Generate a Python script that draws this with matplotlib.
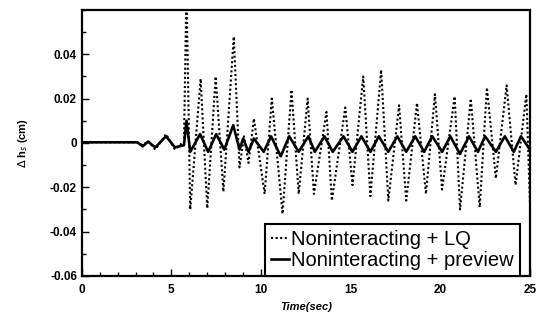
import matplotlib
matplotlib.use("Agg")
import matplotlib.pyplot as plt
from matplotlib.ticker import MultipleLocator

# ---- data ----
lq_t = [0, 3.1, 3.4, 3.7, 4.1, 4.7, 5.2, 5.6, 5.70, 5.84, 6.05, 6.63, 7.0, 7.47, 7.9,
        8.48, 8.8, 9.05, 9.3, 9.6, 10.2, 10.6, 11.2, 11.7, 12.1, 12.6, 12.95,
        13.65, 13.95, 14.7, 15.1, 15.7, 16.1, 16.7, 17.1, 17.7, 18.1, 18.7,
        19.2, 19.7, 20.1, 20.8, 21.1, 21.7, 22.2, 22.6, 23.1, 23.7, 24.2,
        24.8, 25.0]
lq_v = [0.0003, 0.0003, -0.001, 0.001, -0.003, 0.004, -0.003, 0.0, 0.0, 0.07, -0.030,
        0.029, -0.0295, 0.030, -0.022, 0.048, -0.011, 0.003, -0.009, 0.011,
        -0.023, 0.020, -0.032, 0.024, -0.023, 0.020, -0.023, 0.014, -0.026,
        0.016, -0.019, 0.030, -0.024, 0.033, -0.026, 0.017, -0.026, 0.018,
        -0.023, 0.022, -0.021, 0.021, -0.030, 0.020, -0.029, 0.025, -0.016,
        0.026, -0.019, 0.022, -0.027]

pv_t = [0, 3.1, 3.4, 3.7, 4.1, 4.7, 5.2, 5.7, 5.84, 6.05, 6.6, 7.05, 7.5, 7.95,
        8.45, 8.8, 9.0, 9.3, 9.6, 10.15, 10.56, 11.1, 11.57, 12.1, 12.64, 13.0,
        13.54, 14.0, 14.6, 15.1, 15.6, 16.1, 16.57, 17.1, 17.6, 18.1, 18.6,
        19.1, 19.55, 20.1, 20.56, 21.1, 21.6, 22.1, 22.5, 23.1, 23.6, 24.1,
        24.5, 25.0]
pv_v = [0.0003, 0.0003, -0.0015, 0.0006, -0.002, 0.003, -0.002, -0.001, 0.010,
        -0.004, 0.004, -0.004, 0.004, -0.003, 0.008, -0.003, 0.002, -0.004,
        0.002, -0.004, 0.003, -0.006, 0.003, -0.004, 0.003, -0.004, 0.003,
        -0.004, 0.003, -0.004, 0.003, -0.004, 0.003, -0.004, 0.003, -0.004,
        0.003, -0.004, 0.003, -0.004, 0.003, -0.005, 0.003, -0.004, 0.003,
        -0.004, 0.003, -0.004, 0.003, -0.003]

xticks = [0, 5, 10, 15, 20, 25]
yticks = [-0.06, -0.04, -0.02, 0, 0.02, 0.04]
ytick_labels = ['-0.06', '-0.04', '-0.02', '0', '0.02', '0.04']
labels = ['Noninteracting + LQ', 'Noninteracting + preview']

# ---- figure ----
plt.rcParams['font.family'] = ['Liberation Sans', 'DejaVu Sans']
fig = plt.figure(figsize=(5.38, 3.22), dpi=100)
ax = fig.add_axes([0.152, 0.143, 0.833, 0.826])

ax.plot(lq_t, lq_v, color='black', lw=1.5, linestyle=(0, (1, 1.2)), label=labels[0])
ax.plot(pv_t, pv_v, color='black', lw=1.9, label=labels[1])

ax.set_xlim(0, 25)
ax.set_ylim(-0.06, 0.06)
ax.set_xticks(xticks)
ax.set_xticklabels([str(x) for x in xticks])
ax.set_yticks(yticks)
ax.set_yticklabels(ytick_labels)
ax.xaxis.set_minor_locator(MultipleLocator(1))
ax.yaxis.set_minor_locator(MultipleLocator(0.01))
ax.tick_params(which='both', direction='in', top=False, right=False,
               labelsize=8.5, width=1.0)
ax.tick_params(which='major', length=5)
ax.tick_params(which='minor', length=3)
ax.tick_params(axis='x', pad=6)
for lbl in ax.get_xticklabels() + ax.get_yticklabels():
    lbl.set_fontweight('bold')
for s in ax.spines.values():
    s.set_linewidth(1.6)

ax.set_xlabel('Time(sec)', fontsize=8, fontweight='bold', fontstyle='italic', labelpad=4)
ax.set_ylabel(r'$\Delta$ h$_s$ (cm)', fontsize=8, fontweight='bold', labelpad=14)

leg = ax.legend(loc='lower right', bbox_to_anchor=(0.978, 0.0), borderaxespad=0,
                fontsize=14.5, handlelength=0.9, handletextpad=0.1,
                fancybox=False, framealpha=1, edgecolor='black',
                borderpad=0.3, labelspacing=0.1)
leg.get_frame().set_linewidth(1.5)

fig.savefig('out.png', dpi=100)
